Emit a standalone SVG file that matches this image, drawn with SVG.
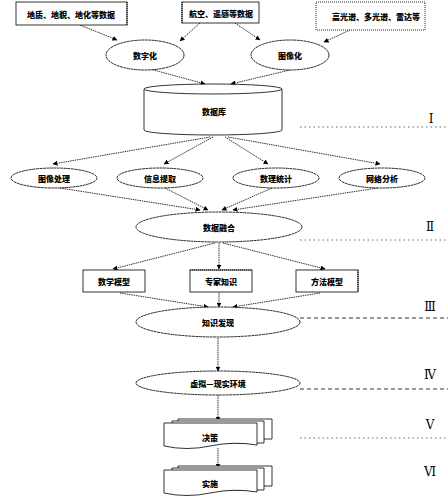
<svg xmlns="http://www.w3.org/2000/svg" width="448" height="503" viewBox="0 0 448 503">
<defs>
<marker id="ah" viewBox="0 0 10 10" refX="9" refY="5" markerWidth="5" markerHeight="5" orient="auto" markerUnits="userSpaceOnUse"><path d="M0,0 L10,5 L0,10 Z" fill="#000"/></marker>
<style>
.t{font-family:"Noto Sans CJK SC","Noto Sans",sans-serif;font-weight:900;font-size:8px;fill:#000;text-anchor:middle;dominant-baseline:central}
.r{font-family:"DejaVu Serif","Liberation Serif",serif;font-size:12px;fill:#000;text-anchor:middle;dominant-baseline:central}
.sh{fill:#fff;stroke:#111;stroke-width:0.9;stroke-dasharray:3 0.5}
.bx{fill:#fff;stroke:#000;stroke-width:0.8}
.dr{fill:none;stroke:#000;stroke-width:1;stroke-dasharray:1 1}
.c{fill:none;stroke:#000;stroke-width:0.8;stroke-dasharray:1.5 0.8;marker-end:url(#ah)}
.sep{fill:none;stroke:#444;stroke-width:0.8;stroke-dasharray:1.5 3}
.sepd{fill:none;stroke:#000;stroke-width:0.8;stroke-dasharray:4 3}
</style>
</defs>
<g id="connectors">
<line class="c" x1="80" y1="25" x2="117" y2="40"/>
<line class="c" x1="200" y1="23" x2="180" y2="41"/>
<line class="c" x1="235" y1="23" x2="260" y2="40"/>
<line class="c" x1="350" y1="30" x2="324" y2="42"/>
<line class="c" x1="150" y1="69" x2="205" y2="84"/>
<line class="c" x1="290" y1="70" x2="231" y2="84"/>
<line class="c" x1="210" y1="137" x2="53" y2="164"/>
<line class="c" x1="213" y1="137" x2="164" y2="164"/>
<line class="c" x1="225" y1="137" x2="268" y2="164"/>
<line class="c" x1="228" y1="137" x2="380" y2="164"/>
<line class="c" x1="60" y1="188" x2="200" y2="210"/>
<line class="c" x1="165" y1="188" x2="208" y2="210"/>
<line class="c" x1="272" y1="188" x2="222" y2="210"/>
<line class="c" x1="378" y1="188" x2="233" y2="210"/>
<line class="c" x1="215" y1="243" x2="113" y2="269"/>
<line class="c" x1="219" y1="243" x2="219" y2="269"/>
<line class="c" x1="223" y1="243" x2="325" y2="269"/>
<line class="c" x1="120" y1="293" x2="208" y2="307"/>
<line class="c" x1="219" y1="293" x2="219" y2="307"/>
<line class="c" x1="320" y1="293" x2="233" y2="307"/>
<line class="c" x1="218" y1="338" x2="218" y2="371"/>
<line class="c" x1="218" y1="395" x2="218" y2="421"/>
<line class="c" x1="218" y1="448" x2="218" y2="468"/>
</g>
<g id="separators">
<line class="sep" x1="300" y1="127" x2="448" y2="127"/>
<line class="sep" x1="300" y1="240" x2="448" y2="240"/>
<line class="sepd" x1="300" y1="318" x2="448" y2="318"/>
<line class="sepd" x1="300" y1="389" x2="448" y2="389"/>
<line class="sep" x1="300" y1="438" x2="448" y2="438"/>
<text class="r" x="431" y="119">Ⅰ</text>
<text class="r" x="430" y="227">Ⅱ</text>
<text class="r" x="430" y="307">Ⅲ</text>
<text class="r" x="430" y="375">Ⅳ</text>
<text class="r" x="430" y="425">Ⅴ</text>
<text class="r" x="430" y="472">Ⅵ</text>
</g>
<g id="src1"><rect class="bx" x="16" y="2" width="111" height="23"/><line class="dr" x1="127" y1="2" x2="127" y2="25"/><text class="t" x="71" y="14">地质、地貌、地化等数据</text></g>
<g id="src2"><rect class="bx" x="182" y="2" width="77" height="21"/><line class="dr" x1="182" y1="2" x2="182" y2="23"/><text class="t" x="221" y="13">航空、遥感等数据</text></g>
<g id="src3"><rect class="sh" x="316" y="2" width="109" height="28" style="stroke-dasharray:1 1"/><text class="t" x="376" y="16">高光谱、多光谱、雷达等</text></g>
<g id="digit"><ellipse class="sh" cx="145" cy="55" rx="39" ry="15"/><text class="t" x="145" y="55">数字化</text></g>
<g id="image"><ellipse class="sh" cx="290" cy="55" rx="39" ry="15"/><text class="t" x="290" y="55">图像化</text></g>
<g id="db"><path class="bx" d="M144,89 V130 A69,5 0 0 0 282,130 V89"/><ellipse class="bx" cx="213" cy="89" rx="69" ry="5"/><text class="t" x="214" y="111">数据库</text></g>
<g id="e1"><ellipse class="sh" cx="54" cy="178" rx="43" ry="10"/><text class="t" x="54" y="178">图像处理</text></g>
<g id="e2"><ellipse class="sh" cx="160" cy="178" rx="43" ry="10"/><text class="t" x="160" y="178">信息提取</text></g>
<g id="e3"><ellipse class="sh" cx="276" cy="178" rx="43" ry="10"/><text class="t" x="276" y="178">数理统计</text></g>
<g id="e4"><ellipse class="sh" cx="382" cy="178" rx="43" ry="10"/><text class="t" x="382" y="178">网络分析</text></g>
<g id="fusion"><ellipse class="sh" cx="219" cy="227" rx="83" ry="15"/><text class="t" x="219" y="227">数据融合</text></g>
<g id="b1"><rect class="bx" x="83" y="270" width="62" height="22"/><text class="t" x="114" y="281">数学模型</text></g>
<g id="b2"><rect class="bx" x="190" y="270" width="62" height="22"/><line class="dr" x1="190" y1="270" x2="252" y2="270"/><text class="t" x="221" y="281">专家知识</text></g>
<g id="b3"><rect class="bx" x="296" y="270" width="62" height="22"/><line class="dr" x1="358" y1="270" x2="358" y2="292"/><text class="t" x="327" y="281">方法模型</text></g>
<g id="know"><ellipse class="sh" cx="218" cy="322" rx="82" ry="15"/><text class="t" x="218" y="322">知识发现</text></g>
<g id="virt"><ellipse class="sh" cx="218" cy="383" rx="82" ry="12"/><text class="t" x="218" y="383">虚拟—现实环境</text></g>
<g id="dec">
<path class="bx" d="M178,419 H272 V439 H178 Z"/>
<path class="bx" d="M172,421 H264 V443 H172 Z"/>
<path class="bx" d="M164,423 H257 V445 Q234,441 210,446 Q187,451 164,446 Z"/>
<text class="t" x="210" y="437">决策</text>
</g>
<g id="impl">
<path class="bx" d="M178,466 H272 V486 H178 Z"/>
<path class="bx" d="M172,468 H264 V490 H172 Z"/>
<path class="bx" d="M164,470 H257 V492 Q234,488 210,493 Q187,498 164,493 Z"/>
<text class="t" x="210" y="483">实施</text>
</g>
</svg>
